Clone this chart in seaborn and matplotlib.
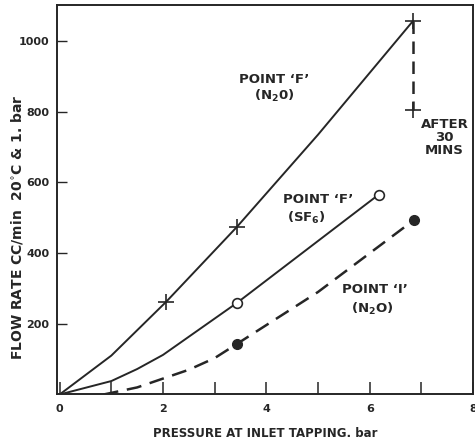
import matplotlib
matplotlib.use("Agg")
import matplotlib.pyplot as plt
import seaborn as sns

# ---- data ----
# curve traces (x in bar, y in cc/min)
f_n2o_x = [0.0, 1.0, 2.06, 3.43, 5.0, 6.84]
f_n2o_y = [0, 110, 262, 474, 735, 1057]
f_sf6_x = [0.0, 1.0, 1.5, 2.0, 3.43, 6.17]
f_sf6_y = [0, 38, 72, 112, 259, 565]
i_n2o_x = [0.85, 1.5, 2.0, 2.5, 3.0, 3.43, 5.0, 6.86]
i_n2o_y = [0, 20, 45, 70, 103, 143, 290, 494]
# marked measurement points
f_n2o_px = [2.06, 3.43, 6.84]
f_n2o_py = [262, 474, 1057]
f_sf6_px = [3.43, 6.17]
f_sf6_py = [259, 565]
i_n2o_px = [3.43, 6.86]
i_n2o_py = [143, 494]
# drop after 30 minutes
after_x = [6.84, 6.84]
after_y = [1057, 805]

x_ticks = [0, 1, 2, 3, 4, 5, 6, 7, 8]
x_labels = ["0", "", "2", "", "4", "", "6", "", "8"]
y_ticks = [200, 400, 600, 800, 1000]
y_labels = ["200", "400", "600", "800", "1000"]

sns.set_theme(style="ticks")
plt.rcParams["font.family"] = ["DejaVu Sans"]
ink = "#262626"

fig = plt.figure(figsize=(4.75, 4.45), dpi=100)
ax = fig.add_axes([0.119, 0.1135, 0.877, 0.8755])

lw = 1.4
sns.lineplot(x=f_n2o_x, y=f_n2o_y, ax=ax, color=ink, lw=lw, sort=False,
             estimator=None)
sns.lineplot(x=f_sf6_x, y=f_sf6_y, ax=ax, color=ink, lw=lw, sort=False,
             estimator=None)
sns.lineplot(x=i_n2o_x, y=i_n2o_y, ax=ax, color=ink, lw=1.8, sort=False,
             estimator=None, linestyle=(0, (6, 3.5)))
sns.lineplot(x=after_x, y=after_y, ax=ax, color=ink, lw=1.8, sort=False,
             estimator=None, linestyle=(0, (5, 3)))

ax.plot(f_n2o_px, f_n2o_py, ls="none", marker="+", ms=11, mew=1.2, color=ink)
ax.plot([after_x[1]], [after_y[1]], ls="none", marker="+", ms=11, mew=1.2, color=ink)
ax.plot(f_sf6_px, f_sf6_py, ls="none", marker="o", ms=7, mew=1.2,
        mfc="white", mec=ink)
ax.plot(i_n2o_px, i_n2o_py, ls="none", marker="o", ms=7, color=ink)

ax.set_xlim(-0.06, 7.98)
ax.set_ylim(0, 1102)
ax.set_xticks(x_ticks)
ax.set_xticklabels(x_labels)
ax.set_yticks(y_ticks)
ax.set_yticklabels(y_labels)
ax.tick_params(axis="x", direction="in", length=9, width=1.1, pad=7,
               labelsize=8, colors=ink)
ax.tick_params(axis="y", direction="in", length=7, width=1.0, pad=5,
               labelsize=8, colors=ink)
for lab in ax.get_xticklabels() + ax.get_yticklabels():
    lab.set_fontweight("bold")
for s in ax.spines.values():
    s.set_visible(True)
    s.set_linewidth(1.4)
    s.set_color(ink)

ax.set_xlabel("PRESSURE AT INLET TAPPING. bar", fontsize=8.5,
              fontweight="bold", color=ink)
ax.xaxis.set_label_coords(0.5, -0.083)
ax.set_ylabel("FLOW RATE CC/min  20$^{\\circ}$C & 1. bar", fontsize=10,
              fontweight="bold", color=ink)
ax.yaxis.set_label_coords(-0.076, 0.43)

tk = dict(fontsize=9.5, fontweight="bold", color=ink, ha="center", va="center")
ax.text(4.15, 890, "POINT \u2018F\u2019", **tk)
ax.text(4.15, 845, "(N$_\\mathbf{2}$0)", **tk)
ax.text(5.0, 552, "POINT \u2018F\u2019", **tk)
ax.text(4.78, 500, "(SF$_\\mathbf{6}$)", **tk)
ax.text(6.1, 296, "POINT \u2018I\u2019", **tk)
ax.text(6.05, 242, "(N$_\\mathbf{2}$O)", **tk)
ax.text(7.45, 765, "AFTER", **tk)
ax.text(7.45, 728, "30", **tk)
ax.text(7.45, 690, "MINS", **tk)

fig.savefig("out.png", dpi=100)
